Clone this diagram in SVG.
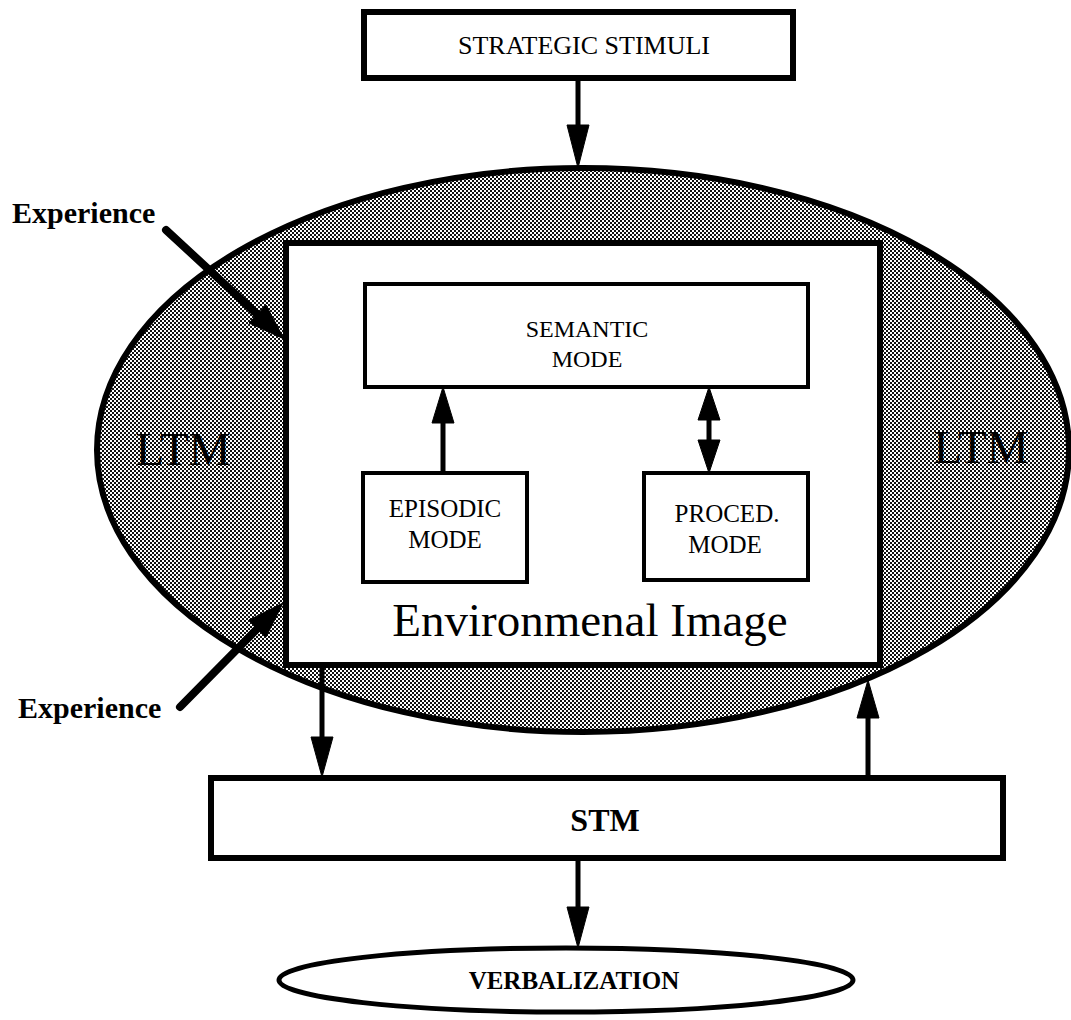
<svg xmlns="http://www.w3.org/2000/svg" width="1071" height="1020" viewBox="0 0 1071 1020">
<defs>
<pattern id="dots" width="4" height="4" patternUnits="userSpaceOnUse">
<rect width="4" height="4" fill="#fff"/>
<rect x="0" y="0" width="2" height="2" fill="#111"/>
<rect x="2" y="2" width="2" height="2" fill="#111"/>
</pattern>
<style>
.box{fill:#fff;stroke:#000;stroke-width:4}
.thick{fill:#fff;stroke:#000;stroke-width:6}
.ln{stroke:#000;stroke-width:5;fill:none}
.exp{stroke:#000;stroke-width:8;stroke-linecap:round;fill:none}
.hd{fill:#000;stroke:#000;stroke-width:1;stroke-linejoin:miter}
.t{font-family:"Liberation Serif","Times New Roman",serif;fill:#000;text-anchor:middle}
.b{font-weight:bold}
</style>
</defs>
<rect width="1071" height="1020" fill="#fff"/>

<g id="ltm">
<ellipse cx="583" cy="450" rx="486" ry="282" fill="url(#dots)" stroke="#000" stroke-width="6"/>
<text class="t" x="183" y="465" font-size="47" fill="#1a1a1a">LTM</text>
<text class="t" x="981" y="463" font-size="47" fill="#1a1a1a">LTM</text>
</g>

<g id="environmental-image">
<rect class="thick" x="286" y="243" width="594" height="422"/>
<text class="t" x="590" y="636" font-size="47">Environmenal Image</text>
</g>

<g id="strategic-stimuli">
<rect class="thick" x="364" y="12" width="429" height="66"/>
<text class="t" x="584" y="54" font-size="26">STRATEGIC STIMULI</text>
</g>

<g id="semantic-mode">
<rect class="box" x="365" y="284" width="443" height="103"/>
<text class="t" x="587" y="337" font-size="24">SEMANTIC</text>
<text class="t" x="587" y="367" font-size="24">MODE</text>
</g>

<g id="episodic-mode">
<rect class="box" x="363" y="473" width="164" height="109"/>
<text class="t" x="445" y="517" font-size="25">EPISODIC</text>
<text class="t" x="445" y="548" font-size="25">MODE</text>
</g>

<g id="proced-mode">
<rect class="box" x="644" y="473" width="164" height="107"/>
<text class="t" x="727" y="522" font-size="25">PROCED.</text>
<text class="t" x="725" y="553" font-size="25">MODE</text>
</g>

<g id="stm">
<rect class="thick" x="211" y="778" width="792" height="80"/>
<text class="t b" x="605" y="831" font-size="32">STM</text>
</g>

<g id="verbalization">
<ellipse cx="566" cy="980" rx="287" ry="32" fill="#fff" stroke="#000" stroke-width="5"/>
<text class="t b" x="574" y="989" font-size="25">VERBALIZATION</text>
</g>

<g id="experience-labels">
<text class="t b" x="12" y="223" font-size="30" style="text-anchor:start">Experience</text>
<text class="t b" x="18" y="718" font-size="30" style="text-anchor:start">Experience</text>
</g>

<g id="connectors">
<line class="ln" x1="578" y1="78" x2="578" y2="128"/>
<polygon class="hd" points="567,125 589,125 578,168"/>

<line class="ln" x1="443" y1="473" x2="443" y2="420"/>
<polygon class="hd" points="432,423 454,423 443,387"/>

<line class="ln" x1="709" y1="415" x2="709" y2="445"/>
<polygon class="hd" points="698,420 720,420 709,387"/>
<polygon class="hd" points="698,440 720,440 709,473"/>

<line class="ln" x1="322" y1="665" x2="322" y2="740"/>
<polygon class="hd" points="311,737 333,737 322,777"/>

<line class="ln" x1="868" y1="778" x2="868" y2="715"/>
<polygon class="hd" points="857,718 879,718 868,680"/>

<line class="ln" x1="578" y1="858" x2="578" y2="910"/>
<polygon class="hd" points="567,907 589,907 578,948"/>

<line class="exp" x1="166" y1="230" x2="258" y2="315"/>
<polygon class="hd" points="249,323 266,305 284,339"/>

<line class="exp" x1="180" y1="707" x2="258" y2="628"/>
<polygon class="hd" points="266,637 249,620 283,603"/>
</g>
</svg>
